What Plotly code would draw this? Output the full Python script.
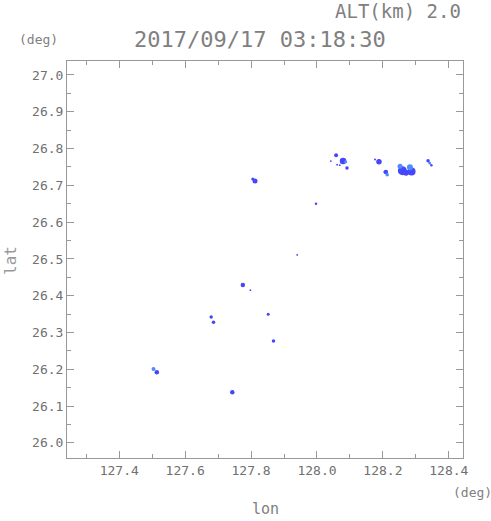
import plotly.graph_objects as go

# Echo blobs (lon, lat)
lon_dark = [127.805, 127.812, 127.997, 127.940, 127.775, 127.798, 127.679, 127.686,
            127.852, 127.868, 127.514, 127.743,
            128.058, 128.079, 128.042, 128.061, 128.069, 128.091,
            128.176, 128.188, 128.204, 128.209,
            128.259, 128.270, 128.287, 128.337, 128.347]
lat_dark = [26.717, 26.712, 26.650, 26.511, 26.429, 26.415, 26.342, 26.328,
            26.350, 26.277, 26.192, 26.138,
            26.782, 26.766, 26.766, 26.756, 26.755, 26.747,
            26.770, 26.764, 26.736, 26.736,
            26.740, 26.734, 26.738, 26.767, 26.755]
blob_dark_px = [3, 5, 2.5, 1.8, 4.5, 1.8, 3.5, 3.5,
                3, 3.5, 4.5, 4.5,
                4, 6.5, 1.8, 1.8, 1.8, 3.5,
                2, 5.5, 1.8, 4.5,
                9, 6, 8, 3.5, 2.5]

lon_light = [127.504, 128.087, 128.213, 128.252, 128.282, 128.342]
lat_light = [26.201, 26.764, 26.729, 26.752, 26.749, 26.761]
blob_light_px = [4, 3, 3.5, 5, 6, 3]

x_range = [127.2415, 128.443]
y_range = [25.959, 27.038]

FONT = "DejaVu Sans Mono"

fig = go.Figure()
fig.add_trace(go.Scatter(x=lon_dark, y=lat_dark, mode="markers",
                         marker=dict(color="#4646FA", size=blob_dark_px, opacity=1,
                                     line=dict(width=0)),
                         showlegend=False, hoverinfo="x+y"))
fig.add_trace(go.Scatter(x=lon_light, y=lat_light, mode="markers",
                         marker=dict(color="#4B8CFF", size=blob_light_px, opacity=1,
                                     line=dict(width=0)),
                         showlegend=False, hoverinfo="x+y"))

axis_common = dict(
    showgrid=False, zeroline=False, showline=True, linecolor="#999999", linewidth=1,
    mirror="ticks", ticks="inside", ticklen=7, tickcolor="#999999", tickwidth=1,
    tickfont=dict(family=FONT, size=13, color="#707070"),
    tickformat=".1f", tickmode="linear", automargin=False,
)

W, H = 491, 521
l, r, t, b = 67, 28, 61, 63

fig.update_layout(
    width=W, height=H,
    margin=dict(l=l, r=r, t=t, b=b),
    paper_bgcolor="white", plot_bgcolor="white",
    xaxis=dict(range=x_range, tick0=127.4, dtick=0.2,
               minor=dict(ticks="inside", ticklen=4, tickcolor="#999999", dtick=0.1, tick0=127.3),
               **axis_common),
    yaxis=dict(range=y_range, tick0=26.0, dtick=0.1,
               minor=dict(ticks="inside", ticklen=4, tickcolor="#999999", dtick=0.05, tick0=25.95),
               **axis_common),
)

# Text placed at pixel positions, converted to paper coordinates
pw, ph = W - l - r, H - t - b
texts = [
    # text, px, py, size, colour, xanchor, yanchor, angle
    ("ALT(km) 2.0", 463, 11, 19, "#808080", "right", "middle", 0),
    ("2017/09/17 03:18:30", 260, 40, 22, "#808080", "center", "middle", 0),
    ("(deg)", 38, 40, 13, "#808080", "center", "middle", 0),
    ("(deg)", 472, 492, 13, "#808080", "center", "middle", 0),
    ("lon", 265, 520, 15, "#808080", "center", "bottom", 0),
    ("lat", 10, 260, 16, "#999999", "center", "middle", -90),
]
ann = []
for txt, px, py, sz, col, xa, ya, ang in texts:
    ann.append(dict(text=txt, xref="paper", yref="paper",
                    x=(px - l) / pw, y=(H - b - py) / ph,
                    xanchor=xa, yanchor=ya, showarrow=False, textangle=ang,
                    font=dict(family=FONT, size=sz, color=col)))
fig.update_layout(annotations=ann)

fig.write_html("out.html", config={"displayModeBar": False},
               post_script="document.body.style.margin='0';document.body.style.overflow='hidden';")
